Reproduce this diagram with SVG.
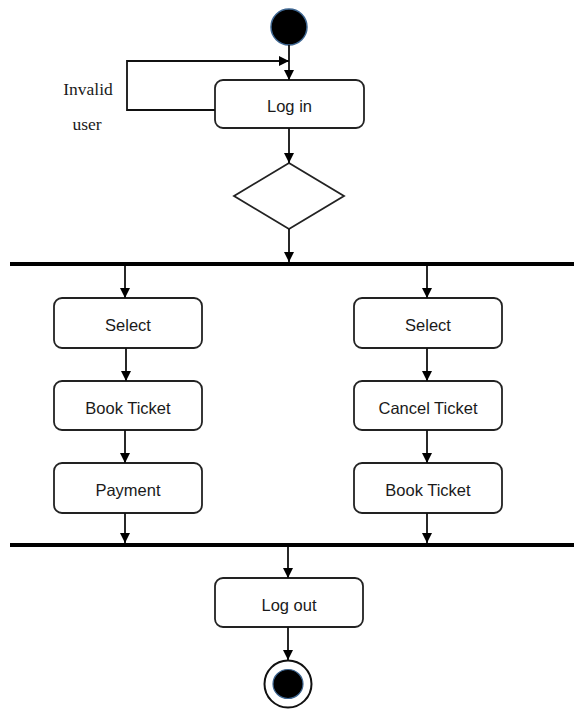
<svg xmlns="http://www.w3.org/2000/svg" width="574" height="709" viewBox="0 0 574 709">
<defs>
<style>
.box{fill:#fff;stroke:#222;stroke-width:1.8}
.lbl{font-family:"Liberation Sans",Arial,sans-serif;font-size:16.5px;fill:#1a1a1a;text-anchor:middle}
.ser{font-family:"Liberation Serif","Times New Roman",serif;font-size:17.5px;fill:#1a1a1a;text-anchor:middle}
.ln{fill:none;stroke:#111;stroke-width:1.8}
.bar{stroke:#000;stroke-width:4}
</style>
<marker id="ah" viewBox="0 0 10 10" refX="10" refY="5" markerWidth="10" markerHeight="10" markerUnits="userSpaceOnUse" orient="auto">
<path d="M0,0 L10,5 L0,10 z" fill="#000"/>
</marker>
</defs>
<rect width="574" height="709" fill="#fff"/>
<g id="start"><circle cx="289" cy="27" r="18" fill="#000" stroke="#3d6590" stroke-width="1.5"/></g>
<g id="login"><rect class="box" x="215" y="80" width="149" height="48" rx="8"/><text class="lbl" x="289.5" y="112">Log in</text></g>
<g id="invalid-label"><text class="ser" x="88" y="95">Invalid</text><text class="ser" x="87" y="130">user</text></g>
<g id="decision"><polygon points="289,163 344,196 289,229 234,196" fill="#fff" stroke="#222" stroke-width="1.8"/></g>
<g id="fork"><line class="bar" x1="10" y1="264" x2="574" y2="264"/></g>
<g id="select1"><rect class="box" x="54" y="298" width="148" height="50" rx="8"/><text class="lbl" x="128" y="331">Select</text></g>
<g id="book1"><rect class="box" x="54" y="381" width="148" height="49" rx="8"/><text class="lbl" x="128" y="414">Book Ticket</text></g>
<g id="payment"><rect class="box" x="54" y="463" width="148" height="50" rx="8"/><text class="lbl" x="128" y="496">Payment</text></g>
<g id="select2"><rect class="box" x="354" y="298" width="148" height="50" rx="8"/><text class="lbl" x="428" y="331">Select</text></g>
<g id="cancel"><rect class="box" x="354" y="381" width="148" height="49" rx="8"/><text class="lbl" x="428" y="414">Cancel Ticket</text></g>
<g id="book2"><rect class="box" x="354" y="463" width="148" height="50" rx="8"/><text class="lbl" x="428" y="496">Book Ticket</text></g>
<g id="join"><line class="bar" x1="10" y1="545" x2="574" y2="545"/></g>
<g id="logout"><rect class="box" x="215" y="578" width="148" height="49" rx="8"/><text class="lbl" x="289" y="611">Log out</text></g>
<g id="end"><circle cx="288" cy="684" r="23.5" fill="#fff" stroke="#111" stroke-width="2"/><ellipse cx="288" cy="684" rx="15" ry="14.5" fill="#000" stroke="#3d6590" stroke-width="1.2"/></g>
<g id="connectors">
<line class="ln" x1="289" y1="45" x2="289" y2="80" marker-end="url(#ah)"/>
<polyline class="ln" points="215,110 127,110 127,61 289,61" marker-end="url(#ah)"/>
<line class="ln" x1="289" y1="128" x2="289" y2="163" marker-end="url(#ah)"/>
<line class="ln" x1="289" y1="229" x2="289" y2="262" marker-end="url(#ah)"/>
<line class="ln" x1="125" y1="266" x2="125" y2="298" marker-end="url(#ah)"/>
<line class="ln" x1="427" y1="266" x2="427" y2="298" marker-end="url(#ah)"/>
<line class="ln" x1="126" y1="348" x2="126" y2="381" marker-end="url(#ah)"/>
<line class="ln" x1="125" y1="430" x2="125" y2="463" marker-end="url(#ah)"/>
<line class="ln" x1="125" y1="513" x2="125" y2="543" marker-end="url(#ah)"/>
<line class="ln" x1="427" y1="348" x2="427" y2="381" marker-end="url(#ah)"/>
<line class="ln" x1="427" y1="430" x2="427" y2="463" marker-end="url(#ah)"/>
<line class="ln" x1="427" y1="513" x2="427" y2="543" marker-end="url(#ah)"/>
<line class="ln" x1="288" y1="547" x2="288" y2="578" marker-end="url(#ah)"/>
<line class="ln" x1="288" y1="627" x2="288" y2="660" marker-end="url(#ah)"/>
</g>
</svg>
